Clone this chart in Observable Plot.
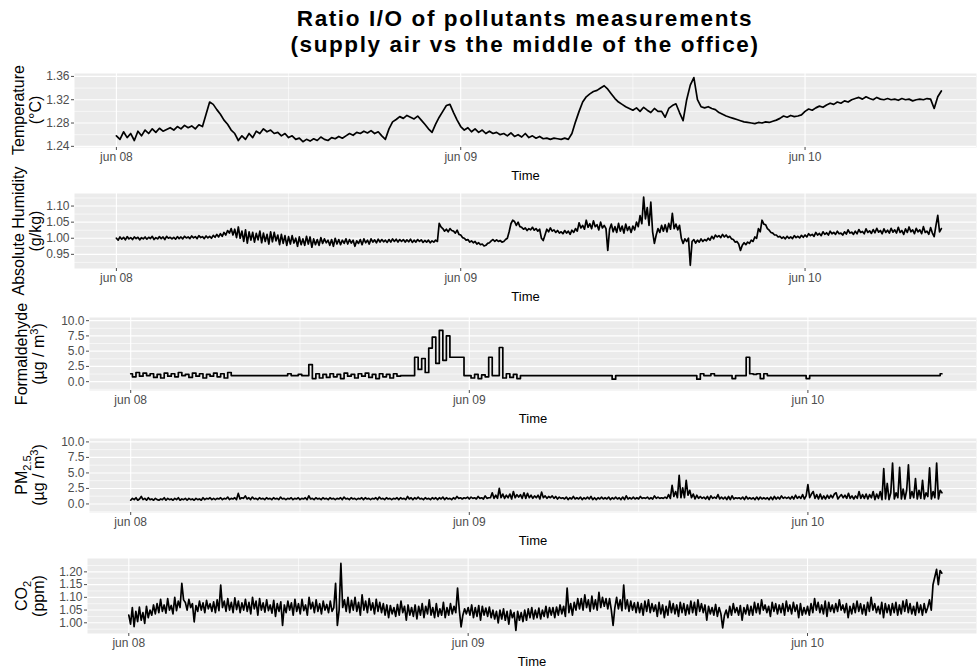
<!DOCTYPE html>
<html><head><meta charset="utf-8">
<script src="https://cdn.jsdelivr.net/npm/d3@7"></script>
<script src="https://cdn.jsdelivr.net/npm/@observablehq/plot@0.6"></script>
<style>
body{margin:0;background:#fff;font-family:"Liberation Sans",Arial,sans-serif;}
#root{position:relative;width:977px;height:671px;overflow:hidden;background:#fff;}
.title{position:absolute;left:74px;width:902px;height:26px;text-align:center;font-weight:bold;font-size:22.5px;letter-spacing:1.6px;line-height:26px;color:#000;white-space:nowrap;}
.ylab{position:absolute;transform:translate(-50%,-50%) rotate(-90deg);text-align:center;white-space:nowrap;font-size:16px;line-height:17px;color:#000;}
.ylab sub,.ylab sup{font-size:11px;line-height:0;}
.panel{position:absolute;left:0;}
</style></head><body>
<div id="root">
  <div class="title" style="top:6px">Ratio I/O of pollutants measurements</div>
  <div class="title" style="top:32px">(supply air vs the middle of the office)</div>
</div>
<script>
// all series start jun 08 00:00 (UTC used only as a neutral clock)
const startUTC = Date.UTC(2021, 5, 8, 0, 0, 0);

// Temperature ratio, one reading every 15 minutes
const temperature = [
1.258,1.252,1.265,1.255,1.262,1.250,1.266,1.258,
1.268,1.262,1.270,1.264,1.271,1.266,1.269,1.272,
1.268,1.274,1.270,1.276,1.272,1.275,1.270,1.277,
1.274,1.295,1.316,1.312,1.303,1.295,1.285,1.278,
1.268,1.262,1.250,1.258,1.252,1.262,1.255,1.266,
1.262,1.270,1.265,1.268,1.262,1.264,1.258,1.262,
1.255,1.258,1.252,1.254,1.248,1.252,1.249,1.253,
1.250,1.256,1.252,1.250,1.255,1.253,1.257,1.254,
1.258,1.262,1.259,1.264,1.262,1.266,1.263,1.267,
1.262,1.265,1.258,1.252,1.270,1.282,1.286,1.291,
1.288,1.293,1.290,1.287,1.292,1.285,1.278,1.270,
1.264,1.278,1.290,1.300,1.310,1.312,1.298,1.285,
1.274,1.268,1.272,1.265,1.270,1.264,1.268,1.262,
1.266,1.262,1.264,1.260,1.262,1.258,1.263,1.257,
1.260,1.256,1.262,1.255,1.258,1.254,1.257,1.253,
1.254,1.252,1.254,1.253,1.252,1.254,1.252,1.262,
1.282,1.300,1.316,1.325,1.330,1.334,1.336,1.340,
1.344,1.338,1.330,1.322,1.316,1.312,1.308,1.305,
1.302,1.306,1.300,1.307,1.302,1.298,1.305,1.300,
1.300,1.290,1.305,1.310,1.313,1.298,1.284,1.320,
1.345,1.358,1.320,1.308,1.306,1.308,1.305,1.303,
1.298,1.295,1.292,1.290,1.288,1.286,1.284,1.282,
1.281,1.280,1.279,1.281,1.280,1.282,1.281,1.283,
1.285,1.288,1.292,1.290,1.293,1.291,1.292,1.294,
1.300,1.304,1.302,1.306,1.309,1.307,1.311,1.314,
1.312,1.316,1.314,1.318,1.316,1.320,1.322,1.324,
1.321,1.325,1.322,1.320,1.324,1.321,1.320,1.322,
1.320,1.321,1.319,1.322,1.320,1.321,1.318,1.320,
1.321,1.320,1.322,1.321,1.305,1.325,1.335
];

// Absolute humidity ratio, one reading every 7.5 minutes
const humidity = [
1.000,0.994,1.004,0.997,1.003,0.995,1.005,0.998,1.002,0.996,1.004,0.999,1.003,0.995,1.002,0.998,
1.004,0.997,1.003,0.999,1.006,0.996,1.002,0.998,1.005,0.999,1.004,0.996,1.006,1.000,1.003,0.998,
1.003,0.997,1.005,0.999,1.004,0.998,1.006,1.001,1.004,0.999,1.007,1.001,1.005,0.999,1.008,1.002,
1.005,0.999,1.007,1.001,1.006,1.000,1.009,1.003,1.012,1.004,1.014,1.006,1.018,1.010,1.024,1.016,
1.030,1.010,1.028,1.002,1.035,1.000,1.022,0.990,1.026,0.985,1.020,0.994,1.018,0.988,1.015,0.995,
1.022,0.986,1.016,0.990,1.012,0.982,1.020,0.989,1.018,0.992,1.010,0.980,1.012,0.984,1.008,0.978,
1.005,0.982,1.008,0.985,1.000,0.975,1.004,0.980,0.998,0.978,1.006,0.982,1.004,0.972,0.998,0.980,
0.996,0.978,1.002,0.984,0.998,0.986,0.994,0.978,0.996,0.975,1.000,0.982,0.996,0.980,0.994,0.984,
0.998,0.982,0.996,0.985,0.994,0.975,0.992,0.984,0.996,0.980,0.998,0.986,0.994,0.982,0.998,0.988,
0.995,0.986,0.997,0.988,0.996,0.989,0.994,0.987,0.996,0.988,0.998,0.990,0.997,0.988,0.996,0.990,
0.996,0.988,0.995,0.989,0.997,0.987,0.994,0.988,0.996,0.990,0.995,0.987,0.993,0.988,0.994,0.986,
0.992,0.988,0.994,0.990,1.046,1.035,1.030,1.022,1.028,1.020,1.030,1.024,1.022,1.016,1.025,1.012,
1.010,1.002,1.000,0.994,0.996,0.988,0.992,0.986,0.990,0.982,0.986,0.980,0.982,0.976,0.978,0.984,
0.986,0.992,0.996,0.990,0.995,0.990,0.993,0.988,0.990,0.996,1.000,1.020,1.045,1.056,1.052,1.040,
1.050,1.036,1.034,1.028,1.032,1.024,1.030,1.026,1.034,1.025,1.030,1.022,1.028,1.000,0.993,1.010,
1.028,1.020,1.032,1.022,1.026,1.018,1.024,1.016,1.020,1.014,1.024,1.016,1.022,1.012,1.025,1.018,
1.030,1.022,1.048,1.032,1.040,1.028,1.056,1.034,1.045,1.030,1.054,1.036,1.042,1.026,1.050,1.032,
1.040,1.030,0.962,1.028,1.044,1.020,1.036,1.018,1.046,1.022,1.038,1.016,1.044,1.024,1.036,1.018,
1.038,1.026,1.050,1.036,1.070,1.045,1.128,1.060,1.095,1.040,1.112,1.020,0.984,1.010,1.030,1.018,
1.040,1.022,1.042,1.020,1.046,1.028,1.077,1.030,1.044,1.026,1.040,1.000,0.984,0.998,0.990,1.000,
0.916,0.990,0.996,0.985,0.994,0.988,0.998,0.990,0.996,0.992,1.000,0.994,1.006,0.998,1.010,1.004,
1.008,1.002,1.012,1.004,1.010,1.002,1.006,0.998,0.996,0.988,0.990,0.982,0.962,0.978,0.986,0.980,
0.988,0.984,0.994,0.990,1.004,1.000,1.030,1.020,1.056,1.044,1.042,1.030,1.025,1.018,1.016,1.010,
1.010,1.004,1.006,1.000,1.004,0.998,1.006,1.000,1.004,0.999,1.008,1.002,1.006,1.001,1.009,1.003,
1.010,1.004,1.014,1.008,1.012,1.006,1.018,1.010,1.015,1.008,1.020,1.012,1.017,1.010,1.022,1.014,
1.018,1.012,1.022,1.014,1.016,1.010,1.020,1.013,1.026,1.016,1.019,1.012,1.022,1.014,1.027,1.018,
1.021,1.014,1.029,1.018,1.023,1.015,1.027,1.017,1.031,1.019,1.024,1.014,1.029,1.018,1.025,1.016,
1.031,1.019,1.026,1.016,1.034,1.018,1.024,1.012,1.029,1.018,1.035,1.020,1.026,1.014,1.031,1.020,
1.026,1.014,1.036,1.018,1.022,1.012,1.033,1.016,1.005,1.040,1.071,1.020,1.030
];

// Formaldehyde ratio, one reading every 15 minutes
const formaldehyde = [
1.3,0.8,1.5,0.9,1.4,1.0,1.3,0.7,
1.2,0.6,1.4,0.9,1.3,0.8,1.5,1.0,
1.2,0.7,1.4,0.9,1.3,0.6,1.2,0.9,
1.4,0.8,1.3,0.6,1.5,1.0,1.0,1.0,
1.0,1.0,1.0,1.0,1.0,1.0,1.0,1.0,
1.0,1.0,1.0,1.0,1.0,1.3,1.0,1.0,
1.2,1.0,1.0,2.8,0.5,1.3,0.6,1.2,
0.7,1.3,0.8,1.2,0.5,1.4,0.9,1.2,
0.6,1.3,0.9,1.4,0.7,1.2,0.5,1.3,
0.8,1.2,0.6,1.3,0.9,1.0,1.0,1.0,
1.0,4.0,2.0,3.8,1.5,5.5,7.3,3.0,
8.4,3.5,7.5,4.0,4.0,4.0,4.0,1.0,
1.0,0.6,1.2,0.5,1.1,0.8,4.0,1.0,
1.0,5.6,0.6,1.3,0.7,1.2,0.5,1.0,
1.0,1.0,1.0,1.0,1.0,1.0,1.0,1.0,
1.0,1.0,1.0,1.0,1.0,1.0,1.0,1.0,
1.0,1.0,1.0,1.0,1.0,1.0,1.0,1.0,
1.0,0.4,1.0,1.0,1.0,1.0,1.0,1.0,
1.0,1.0,1.0,1.0,1.0,1.0,1.0,1.0,
1.0,1.0,1.0,1.0,1.0,1.0,1.0,1.0,
1.0,0.4,1.3,1.0,1.0,1.3,1.0,1.0,
1.0,1.0,1.0,0.5,1.0,1.0,1.0,4.0,
1.3,1.2,1.3,0.5,1.3,1.0,1.0,1.0,
1.0,1.0,1.0,1.0,1.0,1.0,1.0,1.0,
0.5,1.0,1.0,1.0,1.0,1.0,1.0,1.0,
1.0,1.0,1.0,1.0,1.0,1.0,1.0,1.0,
1.0,1.0,1.0,1.0,1.0,1.0,1.0,1.0,
1.0,1.0,1.0,1.0,1.0,1.0,1.0,1.0,
1.0,1.0,1.0,1.0,1.0,1.0,1.3
];

// PM2.5 ratio, one reading every 7.5 minutes
const pm25 = [
0.6,0.9,0.7,1.0,0.6,0.8,1.2,0.7,0.9,0.6,1.0,0.7,0.8,0.6,0.9,0.7,
0.6,0.8,0.7,1.0,0.6,0.9,0.7,0.8,0.6,0.9,0.7,1.0,0.6,0.8,0.7,0.9,
0.6,0.9,0.7,0.8,0.6,0.9,0.7,0.8,0.6,1.0,0.7,0.9,0.8,1.0,0.7,0.9,
0.7,0.9,0.8,1.0,0.7,0.9,0.8,1.1,0.7,0.9,0.8,1.0,0.7,1.7,0.8,1.0,
0.9,1.3,0.8,1.0,0.7,1.1,0.8,0.9,0.7,1.0,0.8,0.9,0.7,1.0,0.8,0.9,
0.7,1.0,0.8,0.9,0.7,1.1,0.8,0.9,0.7,0.9,0.8,1.0,0.7,0.9,0.8,1.0,
0.7,0.9,0.8,1.0,0.7,1.3,0.8,0.9,0.7,1.0,0.8,0.9,0.7,1.0,0.8,0.9,
0.7,1.0,0.8,0.9,0.7,0.9,0.8,1.0,0.7,1.1,0.8,0.9,0.7,1.0,0.8,0.9,
0.7,0.9,0.8,1.0,0.7,1.0,0.8,0.9,0.7,0.9,0.8,1.0,0.7,1.1,0.8,0.9,
0.7,1.0,0.8,0.9,0.7,0.9,0.8,1.0,0.7,1.0,0.8,0.9,0.7,1.2,0.8,1.0,
0.7,1.0,0.8,1.1,0.8,0.9,0.7,1.0,0.8,0.9,0.7,1.0,0.8,1.0,0.7,1.0,
0.8,1.1,0.7,1.0,0.8,0.9,0.7,1.0,0.8,1.2,0.9,1.0,0.8,1.0,0.9,1.1,
0.8,1.1,0.9,1.0,0.8,1.2,0.9,1.0,0.8,1.3,0.9,1.0,1.0,1.8,0.9,1.4,
0.9,2.5,1.0,1.6,0.9,1.4,1.0,1.6,0.8,2.0,1.0,1.5,1.1,1.5,0.9,1.8,
0.9,1.7,1.0,1.4,0.9,1.3,1.0,1.4,0.8,1.9,1.0,1.3,0.9,1.2,1.0,1.3,
0.9,1.2,0.8,1.1,0.9,1.0,0.8,1.1,0.7,1.0,0.8,1.2,0.8,1.0,0.8,1.1,
0.7,1.0,0.8,1.1,0.8,1.2,0.7,1.0,0.7,1.0,0.8,1.1,0.8,1.0,0.8,1.1,
0.7,1.0,0.8,1.1,0.8,1.0,0.7,1.1,0.7,1.3,0.8,1.0,0.8,1.1,0.8,1.0,
0.8,1.2,0.9,1.0,0.9,1.1,0.8,1.0,0.8,1.3,0.9,1.1,0.9,1.0,0.9,1.1,
0.9,1.5,0.9,3.0,1.2,2.0,1.0,4.6,1.0,2.6,1.0,3.8,1.4,2.2,1.0,1.6,
0.8,1.4,0.9,1.2,0.9,1.1,0.8,1.2,0.7,1.3,0.9,1.1,0.9,1.5,0.8,1.1,
0.8,1.1,0.7,1.2,0.7,1.3,0.8,1.0,0.9,1.0,0.8,1.1,0.7,1.2,0.8,1.0,
0.8,1.0,0.7,1.1,0.7,1.1,0.8,1.0,0.8,1.0,0.7,1.1,0.7,1.2,0.8,1.1,
0.8,1.3,0.9,1.1,0.9,1.1,0.8,1.2,0.8,1.4,0.9,1.2,0.9,1.5,0.8,1.3,
3.1,1.0,1.6,2.0,0.9,1.5,0.8,1.6,0.8,1.3,0.8,1.4,0.9,1.4,1.0,1.6,
1.8,0.8,1.2,1.5,1.0,1.4,0.9,1.7,0.9,1.3,0.8,1.3,0.9,2.0,0.9,1.5,
0.9,1.6,0.8,1.5,1.0,2.0,0.7,1.6,0.9,2.0,0.7,5.7,0.8,3.3,0.7,1.8,
6.6,0.8,1.8,1.0,5.9,0.8,2.4,0.8,2.2,6.3,0.9,2.0,1.0,4.1,0.8,2.2,
0.9,3.8,0.8,1.8,1.2,5.8,0.8,2.0,1.0,6.6,0.8,2.2,1.8
];

// CO2 ratio, one reading every 7.5 minutes
const co2 = [
1.030,0.995,1.060,0.985,1.045,1.005,1.062,1.010,1.040,0.998,1.065,1.020,1.050,1.030,1.070,1.035,
1.075,1.040,1.092,1.045,1.070,1.038,1.095,1.050,1.068,1.035,1.100,1.048,1.085,1.060,1.155,1.090,
1.080,1.050,1.092,1.060,1.075,1.004,1.068,1.045,1.085,1.050,1.078,1.040,1.088,1.055,1.075,1.045,
1.082,1.040,1.090,1.048,1.148,1.060,1.085,1.045,1.095,1.050,1.080,1.040,1.098,1.052,1.085,1.040,
1.078,1.050,1.092,1.045,1.080,1.035,1.100,1.055,1.085,1.030,1.095,1.050,1.078,1.042,1.090,1.048,
1.070,1.038,1.088,1.025,1.075,1.045,1.082,0.990,1.070,1.040,1.085,1.050,1.078,1.030,1.092,1.045,
1.075,1.035,1.092,1.048,1.070,1.030,1.100,1.055,1.080,1.040,1.090,1.045,1.075,1.035,1.085,1.050,
1.072,1.040,1.085,1.045,1.060,1.155,0.990,1.050,1.233,1.060,1.090,1.045,1.100,1.040,1.088,1.050,
1.100,1.045,1.080,1.030,1.110,1.050,1.085,1.040,1.095,1.050,1.078,1.035,1.092,1.045,1.080,1.040,
1.075,1.030,1.070,1.020,1.068,1.035,1.060,1.025,1.072,1.030,1.085,1.040,1.065,1.010,1.070,1.030,
1.060,1.025,1.070,1.015,1.065,1.030,1.075,1.020,1.065,1.035,1.090,1.030,1.060,1.020,1.075,1.025,
1.055,1.030,1.080,1.020,1.060,1.030,1.075,1.035,1.065,1.040,1.136,1.050,0.984,1.030,1.055,1.035,
1.060,1.030,1.070,1.020,1.060,1.025,1.068,1.010,1.065,1.030,1.058,1.025,1.062,1.020,1.050,1.015,
1.045,1.000,1.050,1.015,1.055,1.010,1.045,0.995,1.050,1.020,1.040,0.970,1.045,1.010,1.040,1.005,
1.050,1.010,1.055,1.020,1.060,1.015,1.050,1.020,1.058,1.015,1.050,1.025,1.065,1.020,1.060,1.030,
1.060,1.020,1.062,1.030,1.070,1.035,1.065,1.025,1.136,1.040,1.075,1.030,1.080,1.050,1.095,1.055,
1.095,1.050,1.110,1.060,1.090,1.045,1.105,1.055,1.090,1.050,1.120,1.060,1.100,1.065,1.095,1.055,
1.095,1.050,0.990,1.060,1.100,1.055,1.090,1.048,1.148,1.055,1.090,1.045,1.085,1.050,1.078,1.040,
1.080,1.040,1.075,1.030,1.085,1.045,1.090,1.040,1.075,1.045,1.070,1.025,1.080,1.035,1.070,1.020,
1.065,1.030,1.085,1.040,1.075,1.035,1.070,1.025,1.080,1.040,1.075,1.030,1.070,1.035,1.085,1.040,
1.080,1.030,1.090,1.045,1.075,1.040,1.070,1.010,1.065,1.035,1.060,1.030,1.072,1.025,1.060,1.035,
0.980,1.030,1.050,1.020,1.065,1.030,1.075,1.040,1.060,1.030,1.068,1.010,1.060,1.035,1.070,1.030,
1.065,1.030,1.080,1.040,1.075,1.035,1.090,1.050,1.070,1.040,1.065,1.025,1.080,1.045,1.075,1.035,
1.070,1.040,1.075,1.030,1.085,1.045,1.070,1.035,1.080,1.045,1.070,1.020,1.075,1.030,1.060,1.035,
1.065,1.030,1.075,1.040,1.095,1.050,1.080,1.040,1.070,1.035,1.085,1.025,1.080,1.045,1.070,1.040,
1.075,1.045,1.090,1.050,1.070,1.040,1.075,1.020,1.065,1.035,1.075,1.040,1.085,1.045,1.075,1.035,
1.070,1.030,1.080,1.045,1.100,1.050,1.075,1.040,1.065,1.035,1.080,1.020,1.075,1.040,1.070,1.030,
1.075,1.040,1.080,1.030,1.070,1.035,1.085,1.045,1.090,1.040,1.075,1.035,1.065,1.030,1.080,1.040,
1.070,1.030,1.075,1.040,1.060,1.090,1.050,1.150,1.180,1.210,1.150,1.205,1.195
];

// tick labels and breaks
const xTickLabels = ["jun 08", "jun 09", "jun 10"];
const xMajorHours = [0, 24, 48];
const xMinorHours = [12, 36];
const tempTicks = [1.24, 1.28, 1.32, 1.36];
const tempMinor = [1.26, 1.30, 1.34];
const humTicks = [0.95, 1.00, 1.05, 1.10];
const humMinor = [0.925, 0.975, 1.025, 1.075, 1.125];
const concTicks = [0, 2.5, 5, 7.5, 10];
const concMinor = [-1.25, 1.25, 3.75, 6.25, 8.75];
const co2Ticks = [1.00, 1.05, 1.10, 1.15, 1.20];
const co2Minor = [0.975, 1.025, 1.075, 1.125, 1.175, 1.225];

const hourDate = h => new Date(startUTC + h * 3600000);
const toSeries = (vals, stepMin) => vals.map((v, i) => ({t: new Date(startUTC + i * stepMin * 60000), v}));
const xDomain = [hourDate(-2.92), hourDate(59.95)];
const xMajor = xMajorHours.map(hourDate);
const xMinor = xMinorHours.map(hourDate);
const xLabelMap = new Map(xMajor.map((d, i) => [+d, xTickLabels[i]]));

const panels = [
  {values: temperature, step: 15, curve: "linear", top: 73, bottom: 147, left: 74, domain: [1.238, 1.365], ticks: tempTicks, minor: tempMinor, fmt: d => d.toFixed(2),
   label: "Temperature<br>(°C)", lx: 27},
  {values: humidity, step: 7.5, curve: "linear", top: 193, bottom: 268, left: 74, domain: [0.906, 1.139], ticks: humTicks, minor: humMinor, fmt: d => d.toFixed(2),
   label: "Absolute Humidity<br>(g/kg)", lx: 27},
  {values: formaldehyde, step: 15, curve: "step", top: 317, bottom: 390, left: 89, domain: [-1.45, 10.52], ticks: concTicks, minor: concMinor, fmt: d => d.toFixed(1),
   label: "Formaldehyde<br>(µg / m<sup>3</sup>)", lx: 30},
  {values: pm25, step: 7.5, curve: "linear", top: 438, bottom: 512, left: 89, domain: [-1.38, 10.55], ticks: concTicks, minor: concMinor, fmt: d => d.toFixed(1),
   label: "PM<sub>2.5</sub><br>(µg / m<sup>3</sup>)", lx: 30},
  {values: co2, step: 7.5, curve: "linear", top: 558, bottom: 633, left: 87, domain: [0.958, 1.2525], ticks: co2Ticks, minor: co2Minor, fmt: d => d.toFixed(2),
   label: "CO<sub>2</sub><br>(ppm)", lx: 30}
];

const root = document.getElementById("root");
const mTop = 6, mBottom = 40, mRight = 1;

for (const p of panels) {
  const data = toSeries(p.values, p.step);
  const h = mTop + (p.bottom - p.top) + mBottom;
  const chart = Plot.plot({
    width: 977,
    height: h,
    marginTop: mTop,
    marginBottom: mBottom,
    marginLeft: p.left,
    marginRight: mRight,
    style: {fontFamily: "'Liberation Sans', Arial, sans-serif", fontSize: "12px", background: "transparent", overflow: "visible"},
    x: {type: "utc", domain: xDomain},
    y: {domain: p.domain},
    marks: [
      Plot.frame({fill: "#EBEBEB", stroke: null}),
      Plot.ruleY(p.minor, {stroke: "white", strokeWidth: 0.6}),
      Plot.ruleX(xMinor, {stroke: "white", strokeWidth: 0.6}),
      Plot.ruleY(p.ticks, {stroke: "white", strokeWidth: 1.1}),
      Plot.ruleX(xMajor, {stroke: "white", strokeWidth: 1.1}),
      Plot.line(data, {x: "t", y: "v", stroke: "black", strokeWidth: 1.7, curve: p.curve}),
      Plot.axisX({ticks: xMajor, tickFormat: d => xLabelMap.get(+d), tickSize: 3, tickPadding: 2, color: "#4D4D4D", label: null}),
      Plot.axisY({ticks: p.ticks, tickFormat: p.fmt, tickSize: 3, tickPadding: 2, color: "#4D4D4D", label: null}),
      Plot.text(["Time"], {text: d => d, frameAnchor: "bottom", dy: 28, lineAnchor: "middle", fontSize: 13, fill: "black"})
    ]
  });
  const wrap = document.createElement("div");
  wrap.className = "panel";
  wrap.style.top = (p.top - mTop) + "px";
  wrap.appendChild(chart);
  root.appendChild(wrap);

  const lab = document.createElement("div");
  lab.className = "ylab";
  lab.style.left = p.lx + "px";
  lab.style.top = ((p.top + p.bottom) / 2) + "px";
  lab.innerHTML = p.label;
  root.appendChild(lab);
}
</script>
</body></html>
